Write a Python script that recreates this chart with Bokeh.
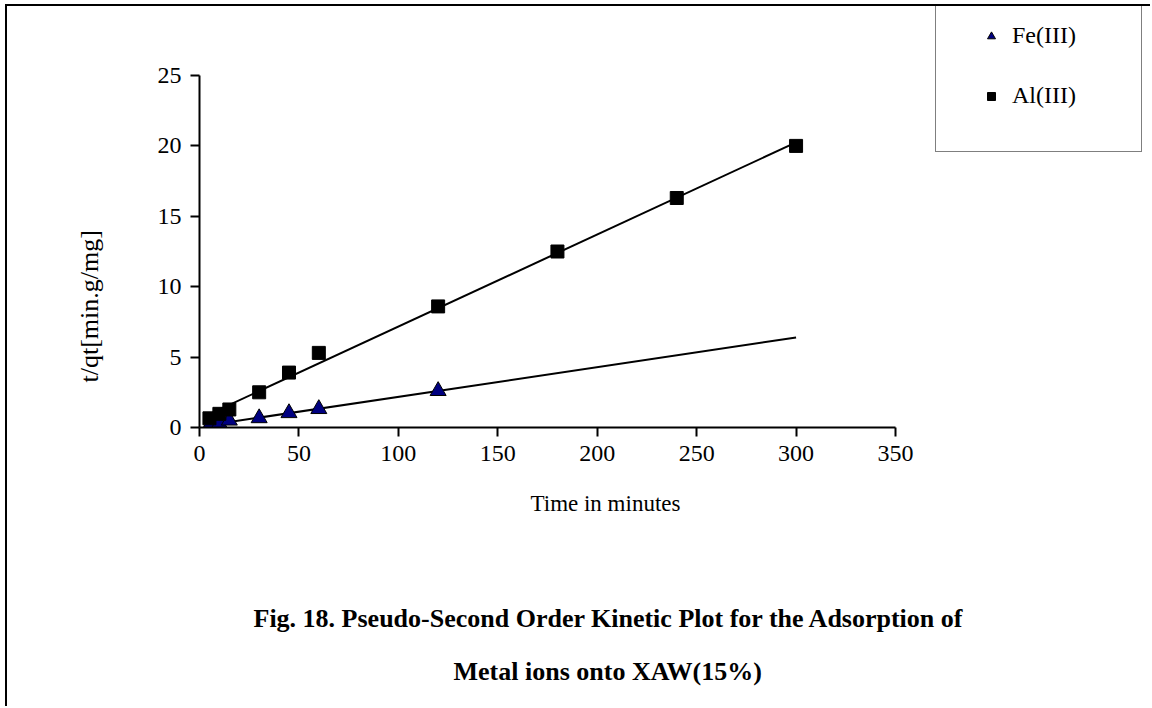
import numpy as np
from bokeh.plotting import figure
from bokeh.models import Range1d, Legend, LegendItem, Title, FixedTicker
from bokeh.embed import file_html
from bokeh.resources import INLINE

# ---- data ----
time_fe = [5, 10, 15, 30, 45, 60, 120]
tqt_fe = [0.1, 0.28, 0.5, 0.67, 1.03, 1.32, 2.6]
time_al = [5, 10, 15, 30, 45, 60, 120, 180, 240, 300]
tqt_al = [0.65, 0.97, 1.28, 2.5, 3.9, 5.3, 8.6, 12.5, 16.3, 20.0]
x_ticks = [0, 50, 100, 150, 200, 250, 300, 350]
y_ticks = [0, 5, 10, 15, 20, 25]
series_names = ["Fe(III)", "Al(III)"]
trend_end = 300
x_label = "Time in minutes"
y_label = "t/qt[min.g/mg]"
title_lines = ["Fig. 18. Pseudo-Second Order Kinetic Plot for the Adsorption of",
               "Metal ions onto XAW(15%)"]

FONT = "Liberation Serif"

# axes span 0..350 and 0..25 (drawn with bounds); the frame reaches the page's
# top-right corner so that the legend can sit there, as in the original sheet
X_AXIS = (x_ticks[0], x_ticks[-1])
Y_AXIS = (y_ticks[0], y_ticks[-1])
FRAME_W, FRAME_H = 953, 421          # pixels of the plotting frame
AXIS_W, AXIS_H = 696, 352            # pixels covered by the drawn axes
x_end = X_AXIS[1] * FRAME_W / AXIS_W
y_end = Y_AXIS[1] * FRAME_H / AXIS_H

p = figure(width=1145, height=702, output_backend="svg", toolbar_location=None,
           x_range=Range1d(0, x_end), y_range=Range1d(0, y_end),
           min_border_left=192, min_border_right=0, min_border_top=0, min_border_bottom=281)
p.margin = (4, 0, 0, 5)
p.styles = {"border-top": "2px solid black", "border-left": "2px solid black"}
p.background_fill_color = "white"
p.border_fill_color = "white"
p.outline_line_color = None
p.xgrid.visible = False
p.ygrid.visible = False

for ax in (p.xaxis[0], p.yaxis[0]):
    ax.axis_line_width = 2
    ax.axis_line_color = "black"
    ax.major_tick_line_width = 2
    ax.major_tick_line_color = "black"
    ax.major_tick_in = 0
    ax.major_tick_out = 9
    ax.minor_tick_line_color = None
    ax.major_label_text_font = FONT
    ax.major_label_text_font_size = "24px"
    ax.major_label_text_color = "black"

p.xaxis.bounds = X_AXIS
p.yaxis.bounds = Y_AXIS
p.xaxis.ticker = FixedTicker(ticks=x_ticks)
p.yaxis.ticker = FixedTicker(ticks=y_ticks)
p.xaxis.major_label_standoff = 9
p.yaxis.major_label_standoff = 9

# trendlines (linear least squares, like the spreadsheet's)
for t, v in ((time_fe, tqt_fe), (time_al, tqt_al)):
    k, b = np.polyfit(t, v, 1)
    xs = [min(t), trend_end]
    p.line(xs, [b + k * x for x in xs], line_color="black", line_width=2)

fe_r = p.scatter(time_fe, tqt_fe, marker="triangle", size=16, fill_color="#000080",
                 line_color="black", line_width=1)
al_r = p.scatter(time_al, tqt_al, marker="square", size=13, fill_color="black",
                 line_color="black", line_width=1)

legend = Legend(items=[LegendItem(label=series_names[0], renderers=[fe_r]),
                       LegendItem(label=series_names[1], renderers=[al_r])],
                location=(736, 275))
legend.border_line_color = "black"
legend.border_line_width = 1.5
legend.background_fill_color = "white"
legend.background_fill_alpha = 1
legend.label_text_font = FONT
legend.label_text_font_size = "24px"
legend.label_text_color = "black"
legend.padding = 42
legend.spacing = 33
legend.glyph_width = 26
legend.glyph_height = 20
legend.label_standoff = 8
legend.label_width = 87
legend.margin = 0
p.add_layout(legend)

# axis captions, placed where the spreadsheet put them
x_cap = Title(text=x_label, align="left", offset=331, standoff=0,
              text_font=FONT, text_font_size="23px", text_font_style="normal", text_color="black")
x_cap.padding = dict(left=0, right=0, top=25, bottom=0)
y_cap = Title(text=y_label, align="left", offset=45, standoff=102,
              text_font=FONT, text_font_size="26px", text_font_style="normal", text_color="black")
p.add_layout(x_cap, "below")
p.add_layout(y_cap, "left")

t1 = Title(text=title_lines[0], align="left", offset=54, standoff=0,
           text_font=FONT, text_font_size="26px", text_font_style="bold", text_color="black")
t1.padding = dict(left=0, right=0, top=86, bottom=0)
t2 = Title(text=title_lines[1], align="left", offset=254, standoff=0,
           text_font=FONT, text_font_size="26px", text_font_style="bold", text_color="black")
t2.padding = dict(left=0, right=0, top=22, bottom=0)
p.add_layout(t1, "below")
p.add_layout(t2, "below")

open("out.html", "w").write(file_html(p, INLINE))
